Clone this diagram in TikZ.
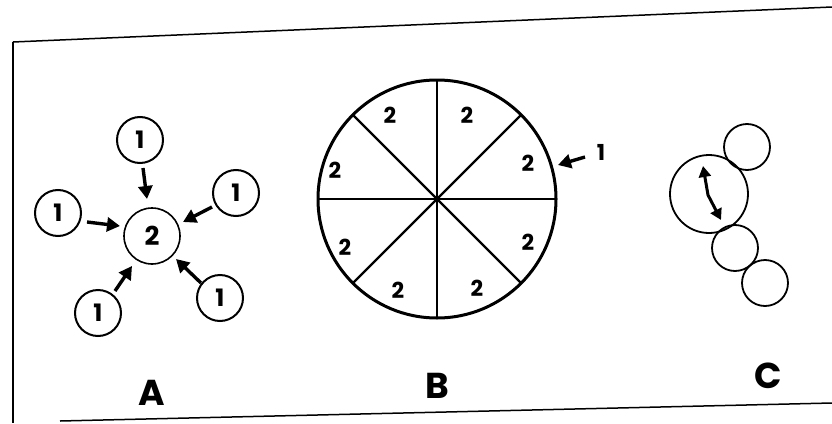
\documentclass[tikz,border=0pt]{standalone}
\usepackage{fontspec}
\setmainfont{Poppins}
\usetikzlibrary{arrows.meta}
\begin{document}
\begin{tikzpicture}[x=1pt,y=-1pt,
  frame/.style={line width=1.5pt},
  smallc/.style={circle,draw,line width=2pt,minimum size=46pt,inner sep=0pt,font=\bfseries\fontsize{24}{24}\selectfont},
  bigc/.style={circle,draw,line width=1.6pt,minimum size=56pt,inner sep=0pt,font=\bfseries\fontsize{26}{26}\selectfont},
  arr/.style={line width=3.4pt,-{Triangle[length=13pt,width=14pt]}},
  seclbl/.style={font=\bfseries\fontsize{22}{22}\selectfont},
  panel/.style={font=\bfseries\fontsize{36}{36}\selectfont},
  plainc/.style={circle,draw,line width=1.8pt,inner sep=0pt}]
\useasboundingbox (0,0) rectangle (832,423);
% frame
\coordinate (f1) at (13,42);
\coordinate (f2) at (832,7);
\coordinate (f3) at (13,423);
\coordinate (f4) at (60,421);
\coordinate (f5) at (832,403);
\draw[frame] (f1) -- (f2);
\draw[frame] (f1) -- (f3);
\draw[frame] (f4) -- (f5);
% Panel A
\node[bigc] (c) at (152,236) {2};
\node[smallc] (t) at (140,140) {1};
\node[smallc] (l) at (58,213) {1};
\node[smallc] (r) at (236,193) {1};
\node[smallc] (bl) at (98,313) {1};
\node[smallc] (br) at (220,298) {1};
\coordinate (ta) at (143,168); \coordinate (tb) at (147,199);
\coordinate (la) at (87,222); \coordinate (lb) at (120,226);
\coordinate (ra) at (212,207); \coordinate (rb) at (183,222);
\coordinate (bla) at (115,291); \coordinate (blb) at (132,266);
\coordinate (bra) at (201,283); \coordinate (brb) at (176,259);
\draw[arr] (ta) -- (tb);
\draw[arr] (la) -- (lb);
\draw[arr] (ra) -- (rb);
\draw[arr] (bla) -- (blb);
\draw[arr] (bra) -- (brb);
\node[panel] (pa) at (152,393) {A};
% Panel B
\coordinate (o) at (437,199);
\draw[line width=3pt] (o) circle (119);
\foreach \a in {0,45,...,315}{
  \draw[line width=2.4pt] (o) -- ++(\a:119);
}
\fill (o) circle (3.5);
\node[seclbl] (s1) at (390,115) {2};
\node[seclbl] (s2) at (467,115) {2};
\node[seclbl] (s3) at (528,163) {2};
\node[seclbl] (s4) at (335,170) {2};
\node[seclbl] (s5) at (345,247) {2};
\node[seclbl] (s6) at (528,242) {2};
\node[seclbl] (s7) at (398,290) {2};
\node[seclbl] (s8) at (477,288) {2};
\node[seclbl] (one) at (601,152) {1};
\coordinate (oa) at (585,157); \coordinate (ob) at (558,165);
\draw[arr] (oa) -- (ob);
\node[panel] (pb) at (437,386) {B};
% Panel C
\node[plainc,minimum size=78pt] (cb) at (709,194) {};
\node[plainc,minimum size=46pt] (ct) at (747,147) {};
\node[plainc,minimum size=46pt] (cm) at (735,248) {};
\node[plainc,minimum size=46pt] (cl) at (765,283) {};
\coordinate (u1) at (703,166);
\coordinate (u2) at (708,195);
\coordinate (u3) at (721,220);
\draw[line width=3pt,{Triangle[length=11pt,width=12pt]}-{Triangle[length=11pt,width=12pt]}] (u1) -- (u2) -- (u3);
\node[panel] (pc) at (768,376) {C};
\end{tikzpicture}
\end{document}
